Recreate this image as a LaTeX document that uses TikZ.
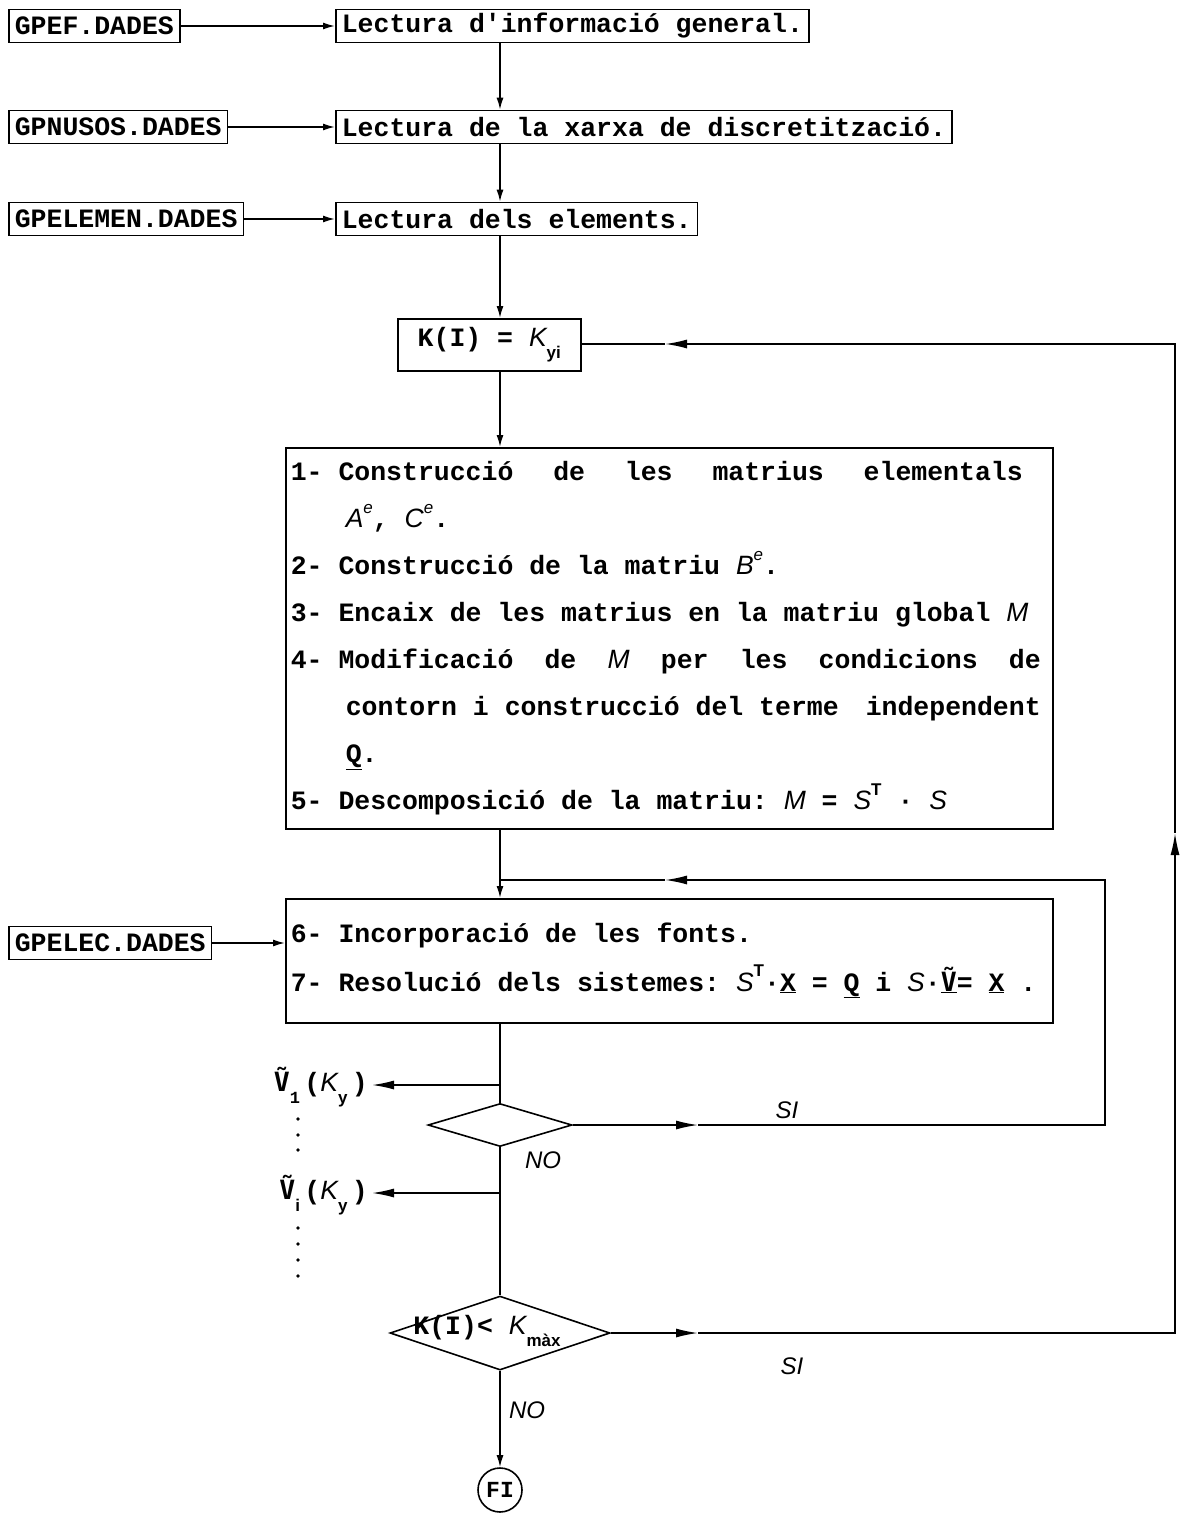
\documentclass[tikz,border=0pt]{standalone}
\usepackage{fontspec}
\setmainfont{Liberation Mono}[WordSpace={1,0,0},PunctuationSpace=WordSpace]
\newfontfamily\hand{Liberation Sans}
\newfontfamily\dvm{DejaVu Sans Mono}
\usetikzlibrary{shapes.geometric,arrows.meta}
\newcommand\mi[1]{{\hand\itshape\mdseries #1}}
\newcommand\sps[1]{\raisebox{0.55em}{\fontsize{17}{17}\selectfont #1}}
\newcommand\sbs[1]{\raisebox{-0.45em}{\fontsize{17}{17}\selectfont #1}}
\newcommand\tV{{\dvm\bfseries Ṽ}}
\newcommand\fixsp{\spaceskip=0.6em\xspaceskip=0.6em\relax}
\begin{document}
\begin{tikzpicture}[x=1pt,y=-1pt,
  line/.style={line width=1.6pt},
  txt/.style={font=\fontsize{26.5}{47}\selectfont\bfseries},
  box/.style={draw,line,txt,inner xsep=6pt,inner ysep=3pt,minimum height=33pt},
  arr/.style={line,-{Latex[length=12pt,width=7pt]}},
  bigarr/.style={line,-{Latex[length=22pt,width=9pt]}},
  lbl/.style={font=\fontsize{24}{24}\selectfont\hand\itshape},
  dot/.style={circle,fill,inner sep=0pt,minimum size=3.6pt}
]
\useasboundingbox (0,0) rectangle (1191,1520);
\coordinate (xl) at (500,0);

% input files and reading boxes
\node[box,anchor=west] (s1) at (8,26) {GPEF.DADES};
\node[box,anchor=west] (b1) at (335,26) {Lectura d\textquotesingle informació general.};
\node[box,anchor=west] (s2) at (8,127) {GPNUSOS.DADES};
\node[box,anchor=west] (b2) at (335,127) {Lectura de la xarxa de discretització.};
\node[box,anchor=west] (s3) at (8,219) {GPELEMEN.DADES};
\node[box,anchor=west] (b3) at (335,219) {Lectura dels elements.};

\draw[arr] (s1.east) -- (b1.west);
\draw[arr] (s2.east) -- (b2.west);
\draw[arr] (s3.east) -- (b3.west);
\draw[arr] (b1.south -| xl) -- (b2.north -| xl);
\draw[arr] (b2.south -| xl) -- (b3.north -| xl);

% K(I) box
\node[draw,line,txt,anchor=north west,minimum width=183pt,minimum height=52pt,inner sep=4pt] (kb) at (397,318)
  {K(I) = \mi{K}\sbs{\hand\bfseries yi}};
\draw[arr] (b3.south -| xl) -- (kb.north -| xl);

% big box
\node[draw,line,anchor=north west,minimum width=767pt,minimum height=381pt,
      text width=757pt,inner xsep=5pt,inner ysep=4pt,align=flush left,
      font=\fontsize{26.5}{47}\selectfont\bfseries\fixsp] (bb) at (285,447) {%
\fixsp
\makebox[732pt][l]{1- Construcció\hfill de\hfill les\hfill matrius\hfill elementals}\\
\hspace*{55pt}\mi{A}\sps{\mi{e}}, \mi{C}\sps{\mi{e}}.\\
2- Construcció de la matriu \mi{B}\sps{\mi{e}}.\\
3- Encaix de les matrius en la matriu global \mi{M}\\
\makebox[750pt][l]{4- Modificació\hfill de\hfill \mi{M}\hfill per\hfill les\hfill condicions\hfill de}\\
\hspace*{55pt}\makebox[695pt][l]{contorn i construcció del terme\hfill independent}\\
\hspace*{55pt}\underline{Q}.\\
5- Descomposició de la matriu: \mi{M} = \mi{S}\sps{\hand\bfseries T} · \mi{S}};
\draw[arr] (kb.south -| xl) -- (bb.north -| xl);

% second box
\node[draw,line,anchor=north west,minimum width=767pt,minimum height=124pt,
      text width=757pt,inner xsep=5pt,inner ysep=4pt,align=flush left,
      font=\fontsize{26.5}{48}\selectfont\bfseries\fixsp] (b4) at (285,898) {%
\fixsp
6- Incorporació de les fonts.\\
7- Resolució dels sistemes: \mi{S}\sps{\hand\bfseries T}·\underline{X} = \underline{Q} i \mi{S}·\underline{\tV}= \underline{X} .};
\node[box,anchor=west] (s4) at (8,943) {GPELEC.DADES};
\draw[arr] (s4.east) -- (s4.east -| b4.west);

\coordinate (j) at (500,880);
\draw[line] (bb.south -| xl) -- (j);
\draw[arr] (j) -- (b4.north -| xl);

% decisions
\node[diamond,draw,line,minimum width=144pt,minimum height=43pt,inner sep=0pt] (d1) at (500,1125) {};
\node[diamond,draw,line,minimum width=220pt,minimum height=74pt,inner sep=0pt] (d2) at (500,1333) {};
\node[txt] (d2t) at (487,1331) {K(I)< \mi{K}\sbs{\hand màx}};
\node[circle,draw,line,minimum size=44pt,inner sep=0pt,font=\fontsize{23}{23}\selectfont\bfseries] (fi) at (500,1490) {FI};

\draw[line] (b4.south -| xl) -- (d1.north);
\draw[line] (d1.south) -- (d2.north);
\draw[arr] (d2.south) -- (fi.north);

% outputs
\coordinate (o1) at (500,1085);
\coordinate (o2) at (500,1193);
\node[txt,anchor=east,inner sep=4pt] (v1) at (372,1087) {\tV\sbs{1}\,(\mi{K}\sbs{\hand y}\,)};
\node[txt,anchor=east,inner sep=4pt] (v2) at (372,1195) {\tV\sbs{\hand i}\,(\mi{K}\sbs{\hand y}\,)};
\draw[bigarr] (o1) -- (o1 -| v1.east);
\draw[bigarr] (o2) -- (o2 -| v2.east);
\foreach \yy in {1119,1135,1150,1228,1244,1260,1276} \node[dot] at (298,\yy) {};

% inner loop
\coordinate (t1) at (698,1125);
\coordinate (c1) at (1105,1125);
\coordinate (c2) at (1105,880);
\coordinate (t2) at (665,880);
\draw[bigarr] (d1.east) -- (t1);
\draw[bigarr] (t1) -- (c1) -- (c2) -- (t2);
\draw[line] (t2) -- (j);
\node[lbl] (si1) at (787,1110) {SI};
\node[lbl] (no1) at (543,1160) {NO};

% outer loop
\coordinate (t3) at (698,1333);
\coordinate (c3) at (1175,1333);
\coordinate (t4) at (1175,833);
\coordinate (c4) at (1175,344);
\coordinate (t5) at (665,344);
\draw[bigarr] (d2.east) -- (t3);
\draw[bigarr] (t3) -- (c3) -- (t4);
\draw[bigarr] (t4) -- (c4) -- (t5);
\draw[line] (t5) -- (t5 -| kb.east);
\node[lbl] (si2) at (792,1366) {SI};
\node[lbl] (no2) at (527,1410) {NO};
\end{tikzpicture}
\end{document}
